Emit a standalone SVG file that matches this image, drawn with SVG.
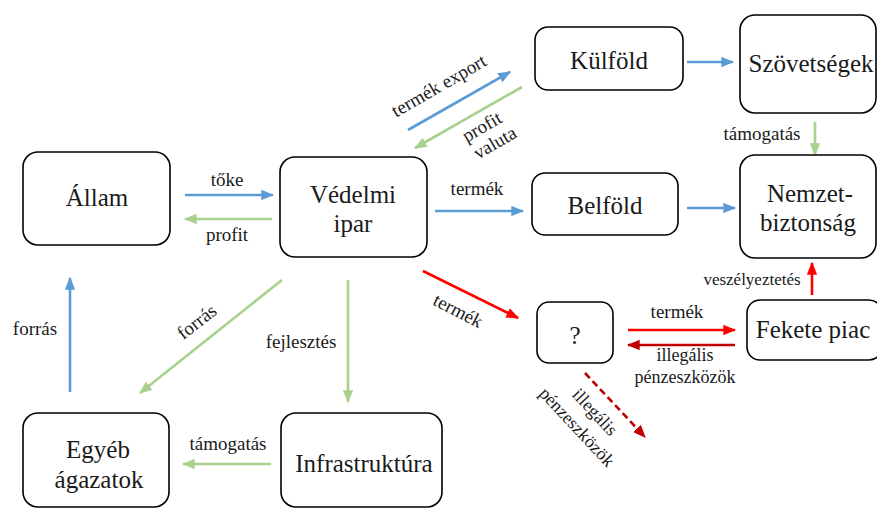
<svg xmlns="http://www.w3.org/2000/svg" width="877" height="509" viewBox="0 0 877 509">
<defs>
<style>
.box{fill:#fff;stroke:#000;stroke-width:1.6}
text{font-family:'Liberation Serif','DejaVu Serif','Times New Roman',serif;fill:#1a1a1a;text-anchor:middle}
.nt{font-size:25px}
.lb{font-size:19px}
.sm{font-size:18px}
.xs{font-size:17px}
.blue{stroke:#5b9bd5;stroke-width:2.6;fill:none;marker-end:url(#ab)}
.green{stroke:#a9d18e;stroke-width:2.6;fill:none;marker-end:url(#ag)}
.red{stroke:#ff0000;stroke-width:2.6;fill:none;marker-end:url(#ar)}
.dred{stroke:#c00000;stroke-width:2.6;fill:none;marker-end:url(#ad)}
</style>
<marker id="ab" markerWidth="5" markerHeight="4" refX="4.5" refY="2" orient="auto" markerUnits="strokeWidth"><path d="M0,0 L5,2 L0,4 Z" fill="#5b9bd5"/></marker>
<marker id="ag" markerWidth="5" markerHeight="4" refX="4.5" refY="2" orient="auto" markerUnits="strokeWidth"><path d="M0,0 L5,2 L0,4 Z" fill="#a9d18e"/></marker>
<marker id="ar" markerWidth="5" markerHeight="4" refX="4.5" refY="2" orient="auto" markerUnits="strokeWidth"><path d="M0,0 L5,2 L0,4 Z" fill="#ff0000"/></marker>
<marker id="ad" markerWidth="5" markerHeight="4" refX="4.5" refY="2" orient="auto" markerUnits="strokeWidth"><path d="M0,0 L5,2 L0,4 Z" fill="#c00000"/></marker>
</defs>
<rect width="877" height="509" fill="#fff"/>
<g id="connectors">
<line class="blue" x1="185" y1="195" x2="273" y2="195"/>
<line class="green" x1="272" y1="219" x2="185" y2="219"/>
<line class="blue" x1="70" y1="392" x2="70" y2="278"/>
<line class="green" x1="282" y1="280" x2="140" y2="393"/>
<line class="green" x1="348" y1="280" x2="348" y2="402"/>
<line class="green" x1="271" y1="464" x2="183" y2="464"/>
<line class="blue" x1="408" y1="130" x2="510" y2="72"/>
<line class="green" x1="522" y1="87" x2="415" y2="148"/>
<line class="blue" x1="687" y1="62" x2="733" y2="62"/>
<line class="green" x1="815" y1="122" x2="815" y2="155"/>
<line class="blue" x1="687" y1="208" x2="735" y2="208"/>
<line class="blue" x1="435" y1="211" x2="523" y2="211"/>
<line class="red" x1="423" y1="271" x2="518" y2="318"/>
<line class="red" x1="628" y1="330" x2="735" y2="330"/>
<line class="dred" x1="735" y1="345" x2="628" y2="345"/>
<line class="red" x1="812" y1="295" x2="812" y2="263"/>
<line class="dred" x1="585" y1="373" x2="645" y2="437" stroke-dasharray="7,4"/>
<text class="lb" x="227" y="186">tőke</text>
<text class="lb" x="227" y="241">profit</text>
<text class="lb" x="35" y="335">forrás</text>
<text class="lb" transform="translate(197,322) rotate(-38)" y="6">forrás</text>
<text class="lb" x="301" y="348">fejlesztés</text>
<text class="lb" x="228" y="450">támogatás</text>
<text class="lb" transform="translate(439,86) rotate(-30)" y="6">termék export</text>
<text class="lb" transform="translate(482,127) rotate(-30)" y="6">profit</text>
<text class="lb" transform="translate(495,143) rotate(-30)" y="6">valuta</text>
<text class="lb" x="762" y="140">támogatás</text>
<text class="lb" x="477" y="195">termék</text>
<text class="lb" transform="translate(458,311) rotate(27)" y="6">termék</text>
<text class="lb" x="677" y="318">termék</text>
<text class="sm" x="685" y="361">illegális</text>
<text class="sm" x="685" y="383">pénzeszközök</text>
<text class="xs" x="752" y="285">veszélyeztetés</text>
<text class="sm" transform="translate(595,412) rotate(47)" y="6">illegális</text>
<text class="sm" transform="translate(577,427) rotate(47)" y="6">pénzeszközök</text>
</g>
<g id="allam"><rect class="box" x="23" y="152" width="147" height="93" rx="15"/><text class="nt" x="97" y="206">Állam</text></g>
<g id="vedelmi"><rect class="box" x="280" y="157" width="147" height="100" rx="15"/><text class="nt" x="353" y="203">Védelmi</text><text class="nt" x="353" y="232">ipar</text></g>
<g id="kulfold"><rect class="box" x="535" y="27" width="148" height="63" rx="13"/><text class="nt" x="609" y="69">Külföld</text></g>
<g id="szovetsegek"><rect class="box" x="740" y="15" width="136" height="98" rx="15"/><text class="nt" x="811" y="72">Szövetségek</text></g>
<g id="nemzetbiztonsag"><rect class="box" x="740" y="155" width="136" height="103" rx="15"/><text class="nt" x="810" y="202">Nemzet-</text><text class="nt" x="808" y="231">biztonság</text></g>
<g id="belfold"><rect class="box" x="532" y="173" width="146" height="62" rx="13"/><text class="nt" x="605" y="214">Belföld</text></g>
<g id="kerdes"><rect class="box" x="537" y="302" width="76" height="61" rx="12"/><text class="nt" x="575" y="344">?</text></g>
<g id="feketepiac"><rect class="box" x="747" y="300" width="135" height="60" rx="13"/><text class="nt" x="813" y="338">Fekete piac</text></g>
<g id="egyeb"><rect class="box" x="23" y="413" width="146" height="94" rx="15"/><text class="nt" x="98" y="458">Egyéb</text><text class="nt" x="99" y="488">ágazatok</text></g>
<g id="infrastruktura"><rect class="box" x="281" y="413" width="161" height="94" rx="15"/><text class="nt" x="364" y="472">Infrastruktúra</text></g>
</svg>
